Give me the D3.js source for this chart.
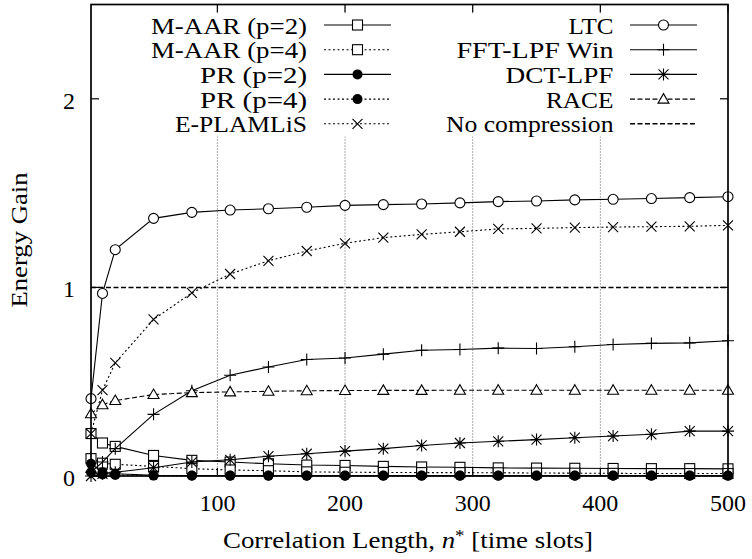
<!DOCTYPE html>
<html><head><meta charset="utf-8">
<script src="https://cdn.jsdelivr.net/npm/d3@7"></script>
<style>
body{margin:0;background:#fff}
svg{display:block}
#c text, #c tspan, #c .t { font-family: "Liberation Serif", "Times New Roman", Tinos !important; }
</style>
</head><body>
<svg id="c" width="752" height="559"></svg>
<script>
const xValues = [1,10,20,50,80,110,140,170,200,230,260,290,320,350,380,410,440,470,500];
const maar2 = [0.225,0.175,0.157,0.109,0.083,0.074,0.065,0.058,0.056,0.051,0.048,0.046,0.043,0.042,0.041,0.040,0.039,0.039,0.038];
const maar4 = [0.092,0.068,0.062,0.051,0.039,0.032,0.028,0.022,0.020,0.019,0.018,0.018,0.017,0.016,0.015,0.014,0.013,0.013,0.013];
const pr2 = [0.065,0.020,0.012,0.004,0.003,0.002,0.002,0.002,0.002,0.002,0.002,0.002,0.002,0.002,0.002,0.002,0.002,0.002,0.002];
const pr4 = [0.020,0.008,0.005,0.002,0.001,0.001,0.001,0.001,0.001,0.001,0.001,0.001,0.001,0.001,0.001,0.001,0.001,0.001,0.001];
const eplamlis = [0.225,0.455,0.60,0.83,0.971,1.071,1.141,1.193,1.234,1.264,1.281,1.295,1.31,1.313,1.317,1.32,1.322,1.324,1.329];
const ltc = [0.41,0.968,1.20,1.366,1.398,1.41,1.417,1.425,1.435,1.439,1.442,1.448,1.455,1.458,1.464,1.467,1.471,1.476,1.481];
const fftLpfWin = [0.02,0.074,0.145,0.327,0.452,0.534,0.578,0.618,0.626,0.646,0.667,0.671,0.678,0.676,0.685,0.697,0.703,0.706,0.717];
const dctLpf = [0.0,0.012,0.02,0.044,0.074,0.086,0.105,0.118,0.132,0.145,0.162,0.175,0.184,0.193,0.203,0.212,0.221,0.238,0.238];
const race = [0.33,0.378,0.40,0.432,0.442,0.446,0.449,0.452,0.453,0.454,0.454,0.455,0.455,0.455,0.455,0.455,0.455,0.455,0.455];
const noCompression = [1,1];
const xTicks = [100,200,300,400,500];
const yTicks = [0,1,2];
const seriesNames = ["M-AAR (p=2)","M-AAR (p=4)","PR (p=2)","PR (p=4)","E-PLAMLiS","LTC","FFT-LPF Win","DCT-LPF","RACE","No compression"];

const W = 752, H = 559;
const M = {l:91, r:728, t:4.5, b:476};
const xs = d3.scaleLinear().domain([1,500]).range([M.l, M.r]);
const ys = d3.scaleLinear().domain([0,2.5]).range([M.b, M.t]);
const svg = d3.select("#c");

function txt(sel) {
  return sel.attr("class","t").attr("font-size", 24).attr("fill", "#000");
}

const DOT = "2,2.5", DASH = "5,2.5";
const series = [
  {name:seriesNames[0], v:maar2, dash:null, mk:"square"},
  {name:seriesNames[1], v:maar4, dash:DOT, mk:"square"},
  {name:seriesNames[2], v:pr2, dash:null, mk:"fcircle"},
  {name:seriesNames[3], v:pr4, dash:DOT, mk:"fcircle"},
  {name:seriesNames[4], v:eplamlis, dash:DOT, mk:"times"},
  {name:seriesNames[5], v:ltc, dash:null, mk:"circle"},
  {name:seriesNames[6], v:fftLpfWin, dash:null, mk:"plus"},
  {name:seriesNames[7], v:dctLpf, dash:null, mk:"star"},
  {name:seriesNames[8], v:race, dash:DASH, mk:"triangle"},
  {name:seriesNames[9], v:null, dash:DASH, mk:null}
];

function marker(g, type, cx, cy) {
  const s = 5;
  if (type === "square") g.append("rect").attr("x",cx-s).attr("y",cy-s).attr("width",2*s).attr("height",2*s).attr("fill","#fff").attr("stroke","#000").attr("stroke-width",1.1);
  else if (type === "circle") g.append("circle").attr("cx",cx).attr("cy",cy).attr("r",s).attr("fill","#fff").attr("stroke","#000").attr("stroke-width",1.1);
  else if (type === "fcircle") g.append("circle").attr("cx",cx).attr("cy",cy).attr("r",s).attr("fill","#000");
  else if (type === "triangle") g.append("path").attr("d",`M${cx},${cy-5.5}L${cx+5.5},${cy+4}L${cx-5.5},${cy+4}Z`).attr("fill","#fff").attr("stroke","#000").attr("stroke-width",1.1);
  else if (type === "plus") g.append("path").attr("d",`M${cx-6},${cy}H${cx+6}M${cx},${cy-6}V${cy+6}`).attr("stroke","#000").attr("stroke-width",1.1);
  else if (type === "times") g.append("path").attr("d",`M${cx-5},${cy-5}L${cx+5},${cy+5}M${cx-5},${cy+5}L${cx+5},${cy-5}`).attr("stroke","#000").attr("stroke-width",1.1);
  else if (type === "star") g.append("path").attr("d",`M${cx-5},${cy-5}L${cx+5},${cy+5}M${cx-5},${cy+5}L${cx+5},${cy-5}M${cx},${cy-6}V${cy+6}M${cx-6},${cy}H${cx+6}`).attr("stroke","#000").attr("stroke-width",1.1);
}

svg.append("rect").attr("width",W).attr("height",H).attr("fill","#fff");

xTicks.filter(t => t < 500).forEach(t => {
  svg.append("line").attr("x1",xs(t)).attr("x2",xs(t)).attr("y1",M.t).attr("y2",M.b)
    .attr("stroke","#444").attr("stroke-width",0.9).attr("stroke-dasharray","1,2");
});

svg.append("rect").attr("x",140).attr("y",13.5).attr("width",572).attr("height",123).attr("fill","#fff");

const tk = svg.append("g").attr("stroke","#000").attr("stroke-width",1.2);
xTicks.forEach(t => {
  tk.append("line").attr("x1",xs(t)).attr("x2",xs(t)).attr("y1",M.b).attr("y2",M.b-8);
  tk.append("line").attr("x1",xs(t)).attr("x2",xs(t)).attr("y1",M.t).attr("y2",M.t+8);
});
yTicks.forEach(t => {
  tk.append("line").attr("x1",M.l).attr("x2",M.l+8).attr("y1",ys(t)).attr("y2",ys(t));
  tk.append("line").attr("x1",M.r).attr("x2",M.r-8).attr("y1",ys(t)).attr("y2",ys(t));
});

svg.append("path").datum(noCompression)
  .attr("d", d3.line().x((d,i)=> i===0 ? xs(1) : xs(500)).y(d=>ys(d)))
  .attr("fill","none").attr("stroke","#000").attr("stroke-width",1.5).attr("stroke-dasharray",DASH);

const lineGen = d3.line().x((d,i)=>xs(xValues[i])).y(d=>ys(d));
series.forEach(s => {
  if (!s.v) return;
  const g = svg.append("g");
  g.append("path").datum(s.v).attr("d", lineGen).attr("fill","none").attr("stroke","#000")
    .attr("stroke-width",1.1).attr("stroke-dasharray", s.dash);
  s.v.forEach((v,i) => marker(g, s.mk, xs(xValues[i]), ys(v)));
});

svg.append("rect").attr("x",M.l).attr("y",M.t).attr("width",M.r-M.l).attr("height",M.b-M.t)
  .attr("fill","none").attr("stroke","#000").attr("stroke-width",1.7);

// tick labels
xTicks.forEach(t => txt(svg.append("text")).attr("x",xs(t)).attr("y",510.5).attr("text-anchor","middle").text(t));
yTicks.forEach(t => txt(svg.append("text")).attr("x",75).attr("y",ys(t)+10).attr("text-anchor","end").text(t));

// axis titles
const xt = txt(svg.append("text")).attr("x",408).attr("y",548).attr("text-anchor","middle")
  .attr("textLength",370).attr("lengthAdjust","spacingAndGlyphs");
xt.append("tspan").text("Correlation Length, ");
xt.append("tspan").style("font-style","italic").text("n");
xt.append("tspan").attr("font-size",17).attr("dy",-7).text("*");
xt.append("tspan").attr("dy",7).text(" [time slots]");

txt(svg.append("text")).attr("transform","translate(27,240) rotate(-90)").attr("text-anchor","middle")
  .attr("textLength",135).attr("lengthAdjust","spacingAndGlyphs")
  .text("Energy Gain");

// legend
const legendWidths = [156,156,107,107,132,45,157,108,67.6,167.6];
series.forEach((s,i) => {
  const col = i < 5 ? 0 : 1, row = i % 5;
  const ly = 25 + row*24.7;
  const tx = col === 0 ? 307 : 613.5;
  const lx1 = col === 0 ? 324 : 630, lx2 = col === 0 ? 391 : 697;
  txt(svg.append("text")).attr("x",tx).attr("y",ly+8.5).attr("text-anchor","end")
    .attr("textLength",legendWidths[i]).attr("lengthAdjust","spacingAndGlyphs").text(s.name);
  svg.append("line").attr("x1",lx1).attr("x2",lx2).attr("y1",ly).attr("y2",ly)
    .attr("stroke","#000").attr("stroke-width", s.v ? 1.1 : 1.5).attr("stroke-dasharray",s.dash);
  if (s.mk) marker(svg, s.mk, (lx1+lx2)/2, ly);
});
</script>
</body></html>
